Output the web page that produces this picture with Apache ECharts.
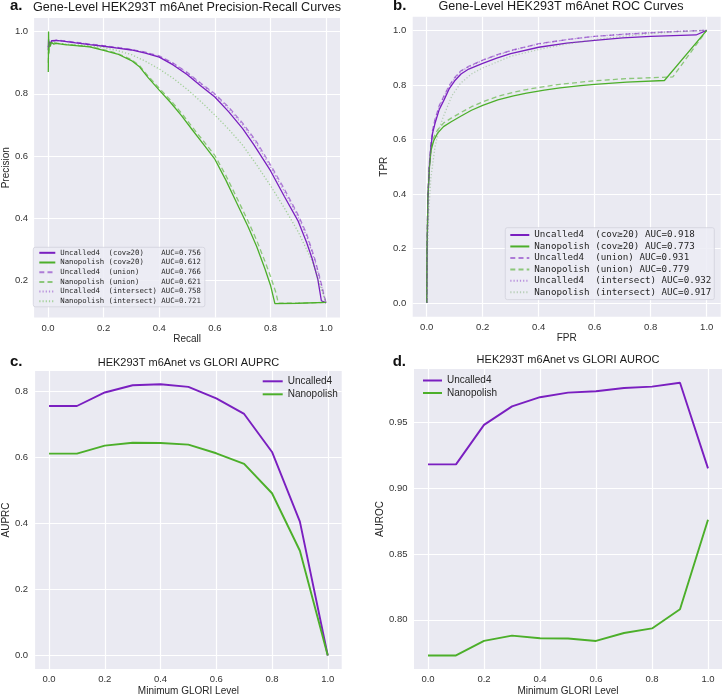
<!DOCTYPE html>
<html><head><meta charset="utf-8">
<script src="https://cdn.jsdelivr.net/npm/echarts@6/dist/echarts.min.js"></script>
<style>html,body{margin:0;padding:0;background:#fff}#c{width:722px;height:697px}</style>
</head><body><div id="c"></div>
<script>
// ---------- Panel a: Precision-Recall curves [recall, precision] ----------
const prU4cov = [[0.001,0.94],[0.002,0.975],[0.004,0.952],[0.006,0.968],[0.009,0.958],[0.013,0.971],[0.02,0.966],[0.03,0.972],[0.06,0.969],[0.1,0.964],[0.15,0.958],[0.2,0.953],[0.25,0.947],[0.3,0.941],[0.35,0.931],[0.4,0.918],[0.45,0.893],[0.5,0.862],[0.55,0.825],[0.6,0.79],[0.65,0.742],[0.7,0.688],[0.74,0.637],[0.8,0.553],[0.85,0.47],[0.9,0.39],[0.93,0.322],[0.95,0.27],[0.97,0.205],[0.983,0.135],[1.0,0.128]];
const prN4cov = [[0.001,0.87],[0.002,1.0],[0.003,0.93],[0.005,0.965],[0.008,0.952],[0.012,0.966],[0.02,0.96],[0.03,0.962],[0.06,0.958],[0.1,0.955],[0.15,0.951],[0.2,0.94],[0.25,0.928],[0.3,0.907],[0.33,0.886],[0.36,0.852],[0.4,0.812],[0.44,0.773],[0.48,0.73],[0.52,0.683],[0.56,0.637],[0.6,0.59],[0.64,0.522],[0.68,0.447],[0.72,0.372],[0.75,0.31],[0.78,0.238],[0.8,0.185],[0.816,0.126],[0.9,0.127],[1.0,0.13]];
const prU4union = [[0.001,0.95],[0.004,0.965],[0.01,0.97],[0.03,0.973],[0.06,0.97],[0.1,0.966],[0.15,0.96],[0.2,0.955],[0.25,0.949],[0.3,0.943],[0.35,0.934],[0.4,0.922],[0.45,0.899],[0.5,0.869],[0.55,0.834],[0.6,0.8],[0.65,0.757],[0.7,0.706],[0.75,0.646],[0.8,0.572],[0.85,0.494],[0.9,0.41],[0.93,0.35],[0.96,0.268],[0.98,0.2],[0.995,0.145],[1.0,0.128]];
const prN4union = [[0.001,0.9],[0.003,0.96],[0.006,0.955],[0.012,0.967],[0.03,0.963],[0.06,0.959],[0.1,0.956],[0.15,0.952],[0.2,0.942],[0.25,0.93],[0.3,0.91],[0.33,0.89],[0.36,0.857],[0.4,0.818],[0.44,0.78],[0.48,0.738],[0.52,0.692],[0.56,0.647],[0.6,0.602],[0.64,0.537],[0.68,0.464],[0.72,0.39],[0.75,0.33],[0.78,0.262],[0.8,0.214],[0.82,0.16],[0.828,0.127],[0.9,0.127],[1.0,0.13]];
const prU4inter = [[0.001,0.95],[0.01,0.968],[0.03,0.971],[0.06,0.969],[0.1,0.965],[0.15,0.959],[0.2,0.954],[0.25,0.948],[0.3,0.942],[0.35,0.933],[0.4,0.92],[0.45,0.897],[0.5,0.866],[0.55,0.831],[0.6,0.796],[0.65,0.752],[0.7,0.7],[0.75,0.639],[0.8,0.565],[0.85,0.486],[0.9,0.403],[0.93,0.342],[0.96,0.262],[0.98,0.195],[0.995,0.14],[1.0,0.128]];
const prN4inter = [[0.001,0.93],[0.005,0.962],[0.01,0.958],[0.03,0.962],[0.06,0.96],[0.1,0.958],[0.15,0.954],[0.2,0.949],[0.25,0.939],[0.3,0.926],[0.35,0.905],[0.4,0.88],[0.45,0.85],[0.5,0.815],[0.55,0.775],[0.6,0.732],[0.65,0.686],[0.7,0.635],[0.75,0.572],[0.8,0.505],[0.85,0.433],[0.9,0.356],[0.95,0.262],[0.98,0.18],[1.0,0.13]];

// ---------- Panel b: ROC curves [FPR, TPR] ----------
const rocU4cov = [[0,0],[0.001,0.12],[0.002,0.22],[0.004,0.378],[0.0095,0.5],[0.015,0.57],[0.021,0.623],[0.03,0.66],[0.045,0.71],[0.062,0.745],[0.08,0.785],[0.1,0.815],[0.1225,0.84],[0.15,0.858],[0.2,0.879],[0.25,0.898],[0.3,0.915],[0.4,0.938],[0.5,0.953],[0.6,0.963],[0.7,0.972],[0.8,0.978],[0.962,0.983],[1,1]];
const rocN4cov = [[0,0],[0.001,0.2],[0.003,0.3],[0.004,0.378],[0.007,0.44],[0.01,0.5],[0.0155,0.56],[0.025,0.595],[0.039,0.623],[0.06,0.647],[0.0875,0.665],[0.123,0.686],[0.16,0.707],[0.2,0.725],[0.254,0.745],[0.31,0.76],[0.357,0.77],[0.42,0.781],[0.476,0.789],[0.55,0.797],[0.6,0.802],[0.714,0.81],[0.849,0.816],[1,1]];
const rocU4union = [[0,0],[0.001,0.13],[0.002,0.24],[0.004,0.39],[0.0095,0.515],[0.015,0.585],[0.021,0.635],[0.03,0.675],[0.045,0.725],[0.062,0.76],[0.08,0.797],[0.1,0.827],[0.1225,0.852],[0.15,0.868],[0.2,0.891],[0.25,0.91],[0.3,0.926],[0.4,0.951],[0.5,0.966],[0.6,0.978],[0.7,0.985],[0.8,0.991],[0.9,0.996],[1,1]];
const rocN4union = [[0,0],[0.001,0.2],[0.003,0.31],[0.004,0.385],[0.007,0.45],[0.01,0.51],[0.0155,0.57],[0.025,0.607],[0.039,0.635],[0.06,0.66],[0.0875,0.678],[0.123,0.699],[0.16,0.72],[0.2,0.738],[0.254,0.758],[0.31,0.773],[0.357,0.783],[0.42,0.794],[0.476,0.802],[0.55,0.81],[0.6,0.815],[0.714,0.823],[0.879,0.829],[1,1]];
const rocU4inter = [[0,0],[0.001,0.12],[0.002,0.22],[0.004,0.37],[0.0095,0.5],[0.015,0.575],[0.021,0.628],[0.03,0.67],[0.045,0.72],[0.062,0.757],[0.08,0.794],[0.1,0.824],[0.1225,0.85],[0.15,0.866],[0.2,0.89],[0.25,0.909],[0.3,0.925],[0.4,0.95],[0.5,0.966],[0.6,0.978],[0.7,0.986],[0.8,0.992],[0.9,0.997],[1,1]];
const rocN4inter = [[0,0],[0.003,0.2],[0.008,0.35],[0.015,0.46],[0.03,0.575],[0.045,0.64],[0.06,0.685],[0.09,0.76],[0.12,0.805],[0.16,0.84],[0.2,0.862],[0.3,0.905],[0.4,0.93],[0.5,0.95],[0.6,0.966],[0.7,0.978],[0.8,0.988],[0.9,0.995],[1,1]];

// ---------- Panels c, d: metric vs minimum GLORI level ----------
const gloriLevels = [0.0,0.1,0.2,0.3,0.4,0.5,0.6,0.7,0.8,0.9,1.0];
const auprcUncalled4 = [0.755,0.755,0.796,0.818,0.821,0.813,0.778,0.731,0.616,0.405,0.0];
const auprcNanopolish = [0.611,0.611,0.635,0.644,0.643,0.638,0.612,0.580,0.491,0.317,0.0];
const aurocUncalled4 = [0.918,0.918,0.948,0.962,0.969,0.9725,0.9735,0.976,0.977,0.980,0.915];
const aurocNanopolish = [0.773,0.773,0.784,0.788,0.786,0.7858,0.784,0.790,0.7935,0.808,0.876];

// ---------- Tick labels ----------
const ticksUnit = [0.0,0.2,0.4,0.6,0.8,1.0];
const ticksPrecision = [0.2,0.4,0.6,0.8,1.0];
const ticksAuprc = [0.0,0.2,0.4,0.6,0.8];
const ticksAuroc = [0.80,0.85,0.90,0.95];

// ---------- Legend labels ----------
const prLabels = ['Uncalled4  (cov\u226520)    AUC=0.756','Nanopolish (cov\u226520)    AUC=0.612','Uncalled4  (union)     AUC=0.766','Nanopolish (union)     AUC=0.621','Uncalled4  (intersect) AUC=0.758','Nanopolish (intersect) AUC=0.721'];
const rocLabels = ['Uncalled4  (cov\u226520) AUC=0.918','Nanopolish (cov\u226520) AUC=0.773','Uncalled4  (union) AUC=0.931','Nanopolish (union) AUC=0.779','Uncalled4  (intersect) AUC=0.932','Nanopolish (intersect) AUC=0.917'];
const methods = ['Uncalled4','Nanopolish'];

const SANS = 'Liberation Sans, Arial, sans-serif';
const MONO = 'DejaVu Sans Mono, monospace';
const P = '#7a1fc0', G = '#4caf2a';
const P_D = 'rgba(122,31,192,0.55)', G_D = 'rgba(76,175,42,0.6)';
const P_O = 'rgba(122,31,192,0.45)', G_O = 'rgba(76,175,42,0.45)';

function ln(name, data, gi, color, type, width) {
  return {type:'line', name, data, xAxisIndex:gi, yAxisIndex:gi, symbol:'none', showSymbol:false,
    lineStyle:{color, width, type}, itemStyle:{color}, silent:true, animation:false};
}
function ax(gi, min, max, ticks, dec, name, gap, isY, lblMargin) {
  return {type:'value', gridIndex:gi, min, max, name, nameLocation:'middle', nameGap:gap,
    nameTextStyle:{fontFamily:SANS, fontSize:10, color:'#262626'},
    axisLine:{show:false}, axisTick:{show:false, customValues:ticks},
    axisLabel:{customValues:ticks, formatter:v=>v.toFixed(dec), color:'#333', fontSize:9.5, fontFamily:SANS, margin:lblMargin},
    splitLine:{show:true, lineStyle:{color:'#ffffff', width:1.2}}};
}
const DASH = [5,3.2], DOT = [1.2,2];
const NOSYM = {color:'rgba(0,0,0,0)', borderColor:'rgba(0,0,0,0)', borderWidth:0};

const gridBase = {show:true, backgroundColor:'#EAEAF2', borderWidth:0, containLabel:false};
const option = {
  backgroundColor:'#ffffff', animation:false,
  grid:[
    Object.assign({left:32, top:18, width:308, height:299.5}, gridBase),
    Object.assign({left:412.7, top:16.7, width:308, height:300}, gridBase),
    Object.assign({left:34.3, top:371, width:307.4, height:300}, gridBase),
    Object.assign({left:414, top:369, width:308, height:300}, gridBase)
  ],
  xAxis:[
    ax(0,-0.05,1.05,ticksUnit,1,'Recall',17,false,5.5),
    ax(1,-0.05,1.05,ticksUnit,1,'FPR',16.5,false,5.5),
    ax(2,-0.05,1.05,ticksUnit,1,'Minimum GLORI Level',17,false,5.5),
    ax(3,-0.05,1.05,ticksUnit,1,'Minimum GLORI Level',17,false,5.5)
  ],
  yAxis:[
    ax(0,0.0812,1.0438,ticksPrecision,1,'Precision',21.5,true,6),
    ax(1,-0.05,1.05,ticksUnit,1,'TPR',23,true,6.5),
    ax(2,-0.041,0.861,ticksAuprc,1,'AUPRC',23,true,7),
    ax(3,0.7627,0.9904,ticksAuroc,2,'AUROC',28,true,6.5)
  ],
  legend:[
    {data:prLabels, orient:'vertical', left:33.3, top:247.3, itemWidth:16, itemHeight:8, itemGap:2.7, itemStyle:NOSYM,
     padding:[2,4,2,5], backgroundColor:'rgba(236,236,244,0.85)', borderColor:'#d2d2dc', borderWidth:0.8, borderRadius:2,
     textStyle:{fontFamily:MONO, fontSize:7.3, color:'#262626'}, selectedMode:false},
    {data:rocLabels, orient:'vertical', left:505.3, top:227.7, itemWidth:19, itemHeight:11, itemGap:2.46, itemStyle:NOSYM,
     padding:[2.8,3,2.8,4], backgroundColor:'rgba(236,236,244,0.85)', borderColor:'#d2d2dc', borderWidth:0.8, borderRadius:2,
     textStyle:{fontFamily:MONO, fontSize:9.2, color:'#262626'}, selectedMode:false},
    {data:methods.map(m=>({name:m})), orient:'vertical', left:261.7, top:376.3, itemWidth:20, itemHeight:10, itemGap:3, itemStyle:NOSYM,
     padding:0, textStyle:{fontFamily:SANS, fontSize:10, color:'#262626'}, selectedMode:false},
    {data:methods.map(m=>({name:m})), orient:'vertical', left:422, top:375.5, itemWidth:19, itemHeight:10, itemGap:2.5, itemStyle:NOSYM,
     padding:0, textStyle:{fontFamily:SANS, fontSize:10, color:'#262626'}, selectedMode:false}
  ],
  graphic:[
    {type:'text', x:10, y:5.8, style:{text:'a.', font:'bold 15px '+SANS, fill:'#111', textAlign:'left', textVerticalAlign:'middle'}},
    {type:'text', x:187, y:7.3, style:{text:'Gene-Level HEK293T m6Anet Precision-Recall Curves', font:'12.6px '+SANS, fill:'#1a1a1a', textAlign:'center', textVerticalAlign:'middle'}},
    {type:'text', x:393, y:5.8, style:{text:'b.', font:'bold 15px '+SANS, fill:'#111', textAlign:'left', textVerticalAlign:'middle'}},
    {type:'text', x:561, y:6.6, style:{text:'Gene-Level HEK293T m6Anet ROC Curves', font:'12.6px '+SANS, fill:'#1a1a1a', textAlign:'center', textVerticalAlign:'middle'}},
    {type:'text', x:10, y:361.5, style:{text:'c.', font:'bold 15px '+SANS, fill:'#111', textAlign:'left', textVerticalAlign:'middle'}},
    {type:'text', x:188.5, y:362.6, style:{text:'HEK293T m6Anet vs GLORI AUPRC', font:'11px '+SANS, fill:'#1a1a1a', textAlign:'center', textVerticalAlign:'middle'}},
    {type:'text', x:392.7, y:362, style:{text:'d.', font:'bold 15px '+SANS, fill:'#111', textAlign:'left', textVerticalAlign:'middle'}},
    {type:'text', x:568, y:360.2, style:{text:'HEK293T m6Anet vs GLORI AUROC', font:'11px '+SANS, fill:'#1a1a1a', textAlign:'center', textVerticalAlign:'middle'}}
  ],
  series:[
    ln(prLabels[0], prU4cov, 0, P, 'solid', 1.3),
    ln(prLabels[1], prN4cov, 0, G, 'solid', 1.3),
    ln(prLabels[2], prU4union, 0, P_D, DASH, 1.3),
    ln(prLabels[3], prN4union, 0, G_D, DASH, 1.3),
    ln(prLabels[4], prU4inter, 0, P_O, DOT, 1.3),
    ln(prLabels[5], prN4inter, 0, G_O, DOT, 1.3),
    ln(rocLabels[0], rocU4cov, 1, P, 'solid', 1.3),
    ln(rocLabels[1], rocN4cov, 1, G, 'solid', 1.3),
    ln(rocLabels[2], rocU4union, 1, P_D, DASH, 1.3),
    ln(rocLabels[3], rocN4union, 1, G_D, DASH, 1.3),
    ln(rocLabels[4], rocU4inter, 1, P_O, DOT, 1.3),
    ln(rocLabels[5], rocN4inter, 1, 'rgba(120,170,110,0.45)', DOT, 1.3),
    ln(methods[0], gloriLevels.map((x,i)=>[x,auprcUncalled4[i]]), 2, P, 'solid', 1.9),
    ln(methods[1], gloriLevels.map((x,i)=>[x,auprcNanopolish[i]]), 2, G, 'solid', 1.9),
    ln(methods[0], gloriLevels.map((x,i)=>[x,aurocUncalled4[i]]), 3, P, 'solid', 1.9),
    ln(methods[1], gloriLevels.map((x,i)=>[x,aurocNanopolish[i]]), 3, G, 'solid', 1.9)
  ]
};
const chart = echarts.init(document.getElementById('c'), null, {renderer:'canvas'});
chart.setOption(option);
</script></body></html>
